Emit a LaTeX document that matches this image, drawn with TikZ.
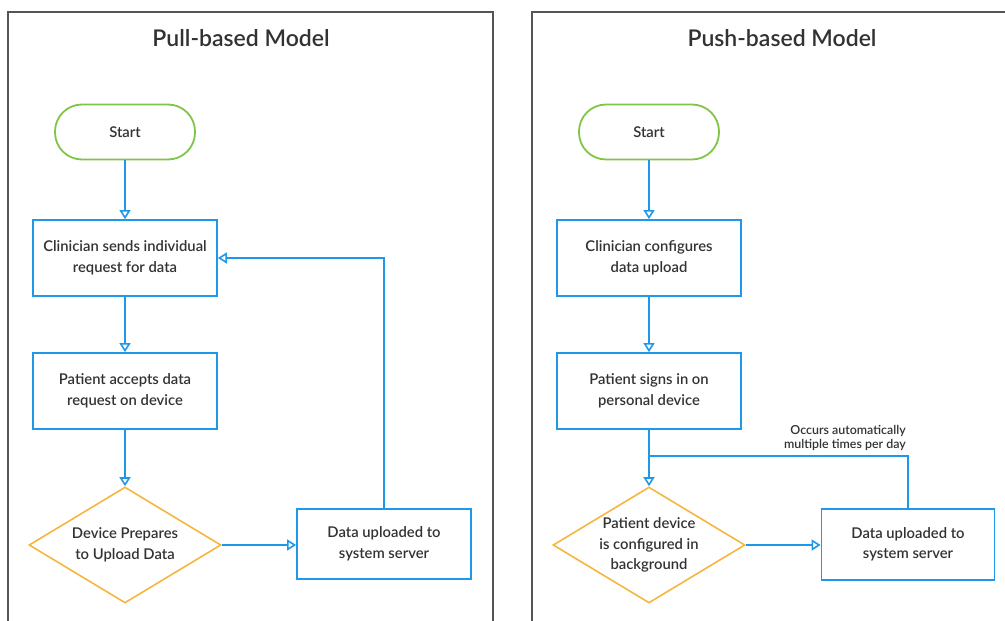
\documentclass[tikz,border=0pt]{standalone}
\usepackage{fontspec}
\setmainfont{Lato}
\newfontfamily\labelfont{Lato Semibold}
\usetikzlibrary{arrows.meta,shapes.geometric}
\definecolor{flowblue}{RGB}{30,152,232}
\definecolor{startgreen}{RGB}{128,196,72}
\definecolor{decisionorange}{RGB}{246,182,62}
\definecolor{textgray}{RGB}{50,50,50}
\definecolor{framegray}{RGB}{85,85,85}

\begin{document}
\begin{tikzpicture}[x=1pt,y=-1pt,
  every node/.style={text=textgray, align=center, inner sep=0pt},
  boxtext/.style={font=\labelfont\fontsize{14.8}{20.5}\selectfont},
  title/.style={font=\labelfont\fontsize{23}{26}\selectfont},
  note/.style={font=\labelfont\fontsize{12.4}{14.5}\selectfont, align=right},
  terminal/.style={boxtext, draw=startgreen, line width=1.8pt, rounded corners=27pt,
    minimum width=140pt, minimum height=55pt},
  process/.style={boxtext, draw=flowblue, line width=1.8pt,
    minimum width=184pt, minimum height=76pt},
  decision/.style={diamond, draw=decisionorange, line width=1.6pt,
    minimum width=192pt, minimum height=116pt},
  wire/.style={draw=flowblue, line width=1.8pt},
  flow/.style={wire, -{Triangle[open, length=9pt, width=11pt, line width=1.6pt]}},
  panel/.style={draw=framegray, line width=1.2pt}
]
\useasboundingbox (0,0) rectangle (1005,621);
\clip (0,0) rectangle (1005,621);

% panel frames (open at the bottom edge)
\draw[panel] (8,640) -- (8,12) -- (493,12) -- (493,640);
\draw[panel] (532,640) -- (532,12) -- (1020,12) -- (1020,640);

% ---------------- pull-based flow ----------------
\node[title] (ltitle) at (241,38) {Pull-based Model};
\node[terminal] (lstart) at (125,132) {Start};
\node[process] (lreq) at (125,258) {Clinician sends individual\\request for data};
\node[process] (laccept) at (125,391) {Patient accepts data\\request on device};
\node[decision] (lprep) at (125,545) {};
\node[boxtext] (lpreptext) at (lprep.center) {Device Prepares\\to Upload Data};
\node[process, minimum width=174pt, minimum height=70pt] (lup) at (384,544) {Data uploaded to\\system server};

\draw[flow] (lstart) -- (lreq);
\draw[flow] (lreq) -- (laccept);
\draw[flow] (laccept) -- (lprep);
\draw[flow] (lprep.east) -- (lprep.east -| lup.west);
\draw[flow] (lup.north) |- (lreq.east);

% ---------------- push-based flow ----------------
\node[title] (rtitle) at (782,38) {Push-based Model};
\node[terminal] (rstart) at (649,132) {Start};
\node[process] (rconf) at (649,258) {Clinician configures\\data upload};
\node[process] (rsign) at (649,391) {Patient signs in on\\personal device};
\node[decision] (rbg) at (649,545) {};
\node[boxtext] (rbgtext) at (rbg.center) {Patient device\\is configured in\\background};
\node[process, minimum width=173pt, minimum height=71pt] (rup) at (908,544.5) {Data uploaded to\\system server};
\coordinate (rjoin) at (649,456);
\node[note, anchor=south east] (rnote) at (906,451) {Occurs automatically\\multiple times per day};

\draw[flow] (rstart) -- (rconf);
\draw[flow] (rconf) -- (rsign);
\draw[flow] (rsign) -- (rbg);
\draw[flow] (rbg.east) -- (rbg.east -| rup.west);
\draw[wire] (rup.north) |- (rjoin);
\end{tikzpicture}
\end{document}
